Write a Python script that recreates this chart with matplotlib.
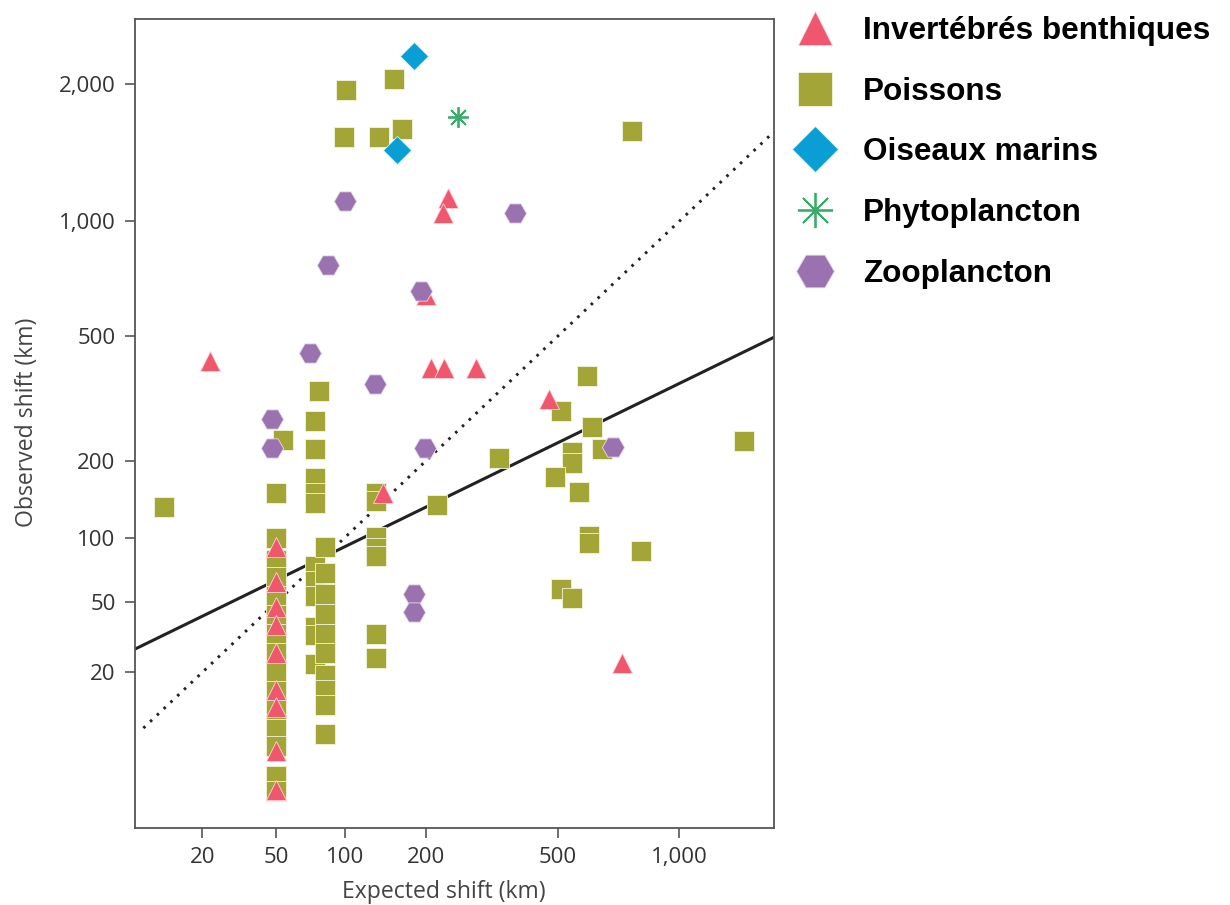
import numpy as np
import matplotlib.pyplot as plt

# range shifts (km): expected from warming vs observed
benthic_x = [50, 50, 50, 50, 50, 50, 50, 50, 50,
             22.3, 237, 227, 200, 208, 230, 290, 473, 141, 731]
benthic_y = [91.4, 63.2, 47.3, 38.0, 26.5, 15.3, 11.7, 5.1, 2.07,
             423, 1132, 1044, 650, 402, 402, 402, 323, 152, 22.8]

fish_x = [11.3,
          50, 50, 50, 50, 50, 50, 50, 50, 50, 50, 50, 50, 50, 50, 50,
          54,
          75, 75, 75, 75, 75, 75, 75, 75, 75, 78.5, 75, 75,
          83, 83, 83, 83, 83, 83, 83, 83, 83, 83,
          132.6, 132.6, 132.6, 132.6, 132.6, 132.6, 132.6,
          218, 340, 599, 511, 617, 545, 545, 652, 492, 570, 1384, 605, 605, 813, 511, 546,
          101, 155, 99, 136, 165.5, 775]
fish_y = [134,
          100, 80, 66.5, 53.8, 43, 33.9, 26.3, 20.1, 15.05, 11.0, 7.86, 5.65, 2.93, 2.02, 152,
          236,
          173, 152, 139, 75, 64, 54, 37, 33.5, 22.6, 343, 274, 219.5,
          91, 69.5, 55, 43.5, 34, 26.3, 19.2, 15.3, 12, 7.15,
          152, 141.6, 100.6, 90.2, 83.1, 33.9, 24.6,
          136, 204, 381, 296, 261, 214, 196, 220, 175, 153, 235, 102, 95, 87.5, 58, 52.4,
          1948, 2050, 1555, 1555, 1613, 1600]

bird_x = [182.4, 158]
bird_y = [2276, 1455]

phyto_x = [254.5]
phyto_y = [1715]

zoo_x = [47.9, 47.9, 71.5, 131, 199, 100.4, 380, 85.2, 192, 697, 182, 182]
zoo_y = [278, 222, 446, 360, 222, 1116, 1044, 778, 667, 223, 55.1, 44.6]

# regression in fourth-root space: y**0.25 = b0 + b1 * x**0.25
fit_b0 = 1.46
fit_b1 = 0.516

x_ticks = [20, 50, 100, 200, 500, 1000]
x_ticklabels = ['20', '50', '100', '200', '500', '1,000']
y_ticks = [20, 50, 100, 200, 500, 1000, 2000]
y_ticklabels = ['20', '50', '100', '200', '500', '1,000', '2,000']

x_range = (6.9, 1591)
y_range = (0.671, 2680)

labels = ['Invertébrés benthiques', 'Poissons', 'Oiseaux marins',
          'Phytoplancton', 'Zooplancton']


def fwd(v):
    return np.power(np.clip(v, 0, None), 0.25)


def inv(v):
    return np.power(v, 4)


fig = plt.figure(figsize=(12.3, 9.05), dpi=100)
ax = fig.add_axes([0.1098, 0.0851, 0.5191, 0.8939])
ax.set_xscale('function', functions=(fwd, inv))
ax.set_yscale('function', functions=(fwd, inv))

# 1:1 line
r = np.linspace(fwd(8), fwd(x_range[1]), 60)
ax.plot(inv(r), inv(r), ls=(0, (0.9, 2.3)), lw=2.1, color='#222222', zorder=1)

# fitted line
r = np.linspace(fwd(x_range[0]), fwd(x_range[1]), 60)
ax.plot(inv(r), inv(fit_b0 + fit_b1 * r), lw=2.2, color='#222222', zorder=1)

sq, = ax.plot(fish_x, fish_y, 's', ms=14.2, color='#a3a537',
              mec='#f4f4dc', mew=0.6, ls='none', zorder=2)
tri, = ax.plot(benthic_x, benthic_y, '^', ms=14.4, color='#f0566c',
               mec='#fbd6dc', mew=0.6, ls='none', zorder=3)
dia, = ax.plot(bird_x, bird_y, 'D', ms=13.9, color='#0a9fd4',
               mec='#d6eef8', mew=0.6, ls='none', zorder=4)
ast, = ax.plot(phyto_x, phyto_y, marker=(8, 2, 0), ms=14.9, color='#3aac6a',
               mew=1.3, ls='none', zorder=4)
hexa, = ax.plot(zoo_x, zoo_y, 'H', ms=16, color='#9b72b0',
                mec='#e6dcef', mew=0.6, ls='none', zorder=5)

ax.set_xlim(*x_range)
ax.set_ylim(*y_range)
ax.set_xticks(x_ticks)
ax.set_xticklabels(x_ticklabels)
ax.set_yticks(y_ticks)
ax.set_yticklabels(y_ticklabels)
ax.minorticks_off()

tick_font = 'Open Sans'
ax.tick_params(direction='out', length=7, width=1.2, color='#555555',
               labelsize=16, labelcolor='#333333', pad=7)
for lab in ax.get_xticklabels() + ax.get_yticklabels():
    lab.set_family(tick_font)
for sp in ax.spines.values():
    sp.set_color('#555555')
    sp.set_linewidth(1.3)

ax.set_xlabel('Expected shift (km)', family=tick_font, fontsize=16.6,
              color='#444444', labelpad=8)
ax.xaxis.label.set_x(0.484)
ax.set_ylabel('Observed shift (km)', family=tick_font, fontsize=16.6,
              color='#444444', labelpad=14)
ax.yaxis.label.set_y(0.502)

fig.legend([tri, sq, dia, ast, hexa], labels, loc='upper left',
           bbox_to_anchor=(0.6498, 0.982), frameon=False,
           prop=dict(family='Liberation Sans', weight='bold', size=22.7),
           markerscale=1.7, handlelength=1.0, handletextpad=1.03,
           labelspacing=0.97, borderpad=0, borderaxespad=0)

fig.savefig('out.png', dpi=100)
